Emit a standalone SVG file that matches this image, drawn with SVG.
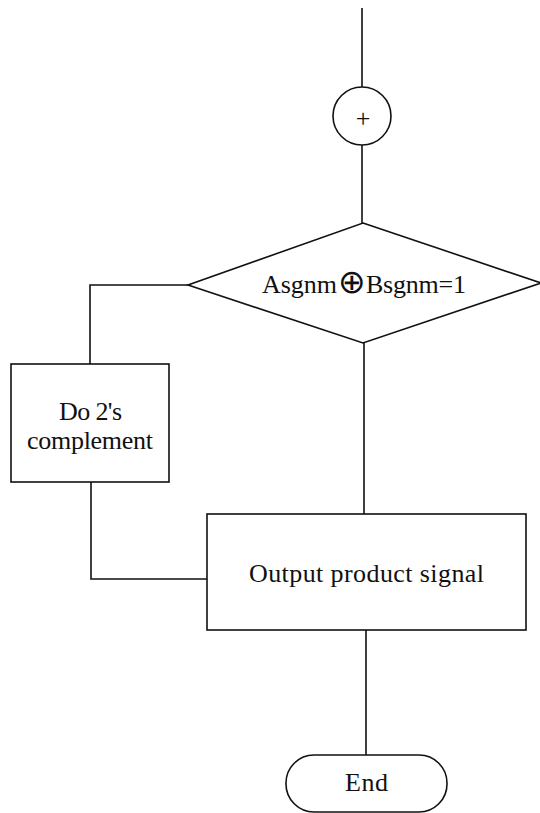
<svg xmlns="http://www.w3.org/2000/svg" width="540" height="813" viewBox="0 0 540 813">
<style>
.s{fill:none;stroke:#111;stroke-width:1.6}
.n{fill:#fff;stroke:#111;stroke-width:1.6}
.t{font-family:"Liberation Serif","Times New Roman",serif;font-size:26px;fill:#111}
</style>
<rect width="540" height="813" fill="#fff"/>
<g id="connectors">
<path class="s" d="M362 8V87"/>
<path class="s" d="M362 145V223"/>
<path class="s" d="M188 285H90V364"/>
<path class="s" d="M364 343V514"/>
<path class="s" d="M91 482V579H207"/>
<path class="s" d="M366 630V755"/>
</g>
<g id="join">
<circle class="n" cx="362" cy="116" r="29"/>
<text class="t" x="363" y="127" text-anchor="middle" font-size="32">+</text>
</g>
<g id="decision">
<polygon class="n" points="363,223 541,283 363,343 188,285"/>
<text class="t" y="293"><tspan x="262" textLength="75" lengthAdjust="spacing">Asgnm</tspan><tspan x="338" font-family="DejaVu Sans,sans-serif" font-size="33">⊕</tspan><tspan x="366" textLength="100" lengthAdjust="spacing">Bsgnm=1</tspan></text>
</g>
<g id="complement">
<rect class="n" x="11" y="364" width="158" height="118"/>
<text class="t" x="59" y="420" textLength="63" lengthAdjust="spacing">Do 2's</text>
<text class="t" x="27" y="449" textLength="126" lengthAdjust="spacing">complement</text>
</g>
<g id="output">
<rect class="n" x="207" y="514" width="319" height="116"/>
<text class="t" x="249" y="582" textLength="235" lengthAdjust="spacing">Output product signal</text>
</g>
<g id="end">
<rect class="n" x="286" y="755" width="161" height="57" rx="28" ry="28"/>
<text class="t" x="345" y="791" textLength="43" lengthAdjust="spacing">End</text>
</g>
</svg>
